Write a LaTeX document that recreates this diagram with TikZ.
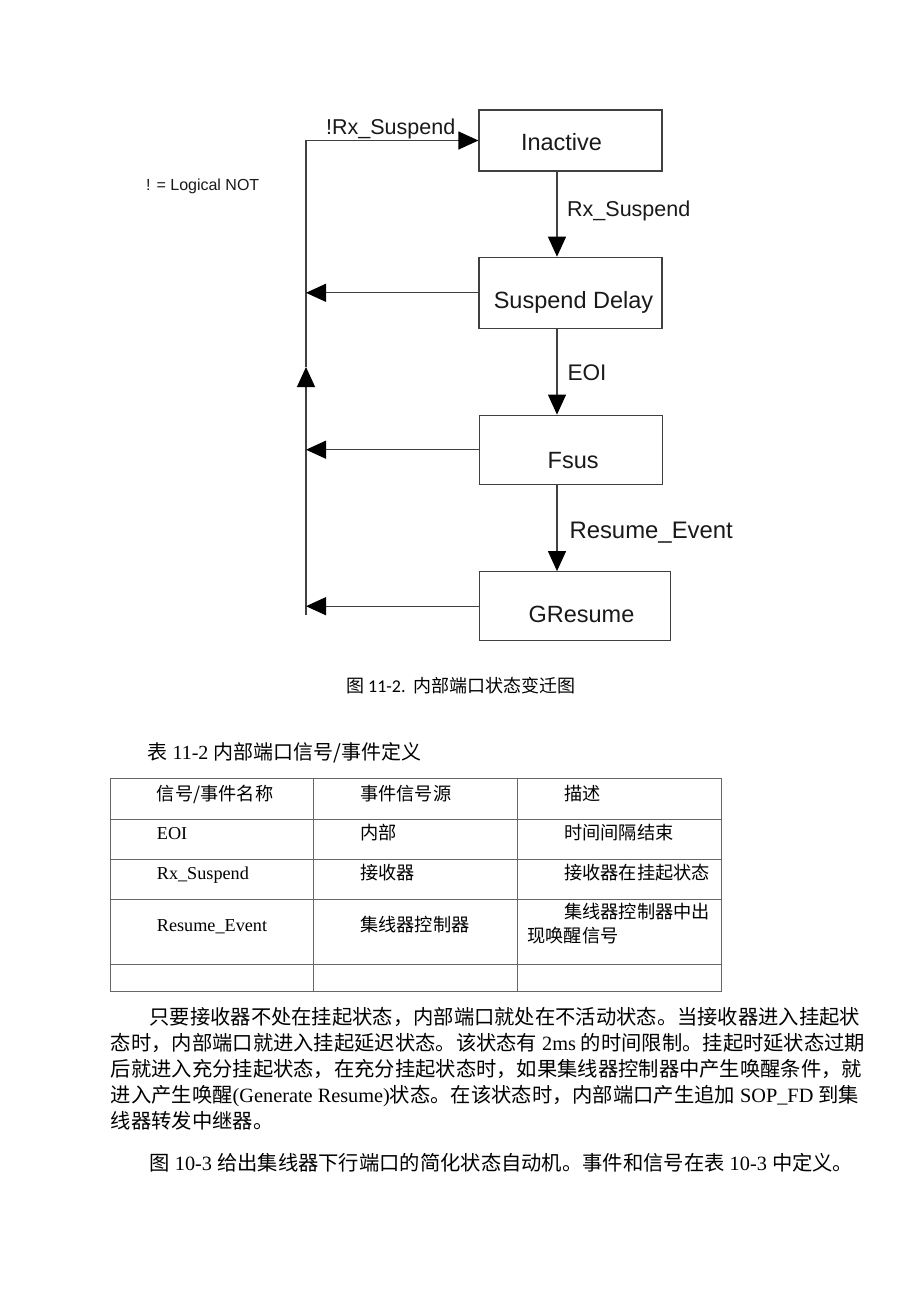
\documentclass[tikz,border=0pt]{standalone}
\usepackage{fontspec}
\setmainfont{Liberation Serif}
\newfontfamily\arial{Liberation Sans}
\newfontfamily\cjk{Noto Sans CJK SC}
\newfontfamily\calib{Carlito}
\usetikzlibrary{arrows.meta}
\XeTeXlinebreaklocale "zh"
\XeTeXlinebreakskip=0pt plus 4pt
\newcommand{\lat}[1]{{\rmfamily #1}}

\begin{document}
\begin{tikzpicture}[x=1pt, y=-1pt,
	wire/.style={draw=black!75, line width=1.2pt},
	flow/.style={wire, -{Triangle[length=20pt, width=18pt, color=black]}},
	state/.style={wire, rectangle, minimum width=183pt, minimum height=69pt, inner sep=0pt, text=black!90, font=\arial\fontsize{23.5}{26}\selectfont, text depth=0pt},
	guard/.style={anchor=base west, inner sep=0pt, text=black!90, font=\arial\fontsize{21.5}{24}\selectfont},
	body/.style={anchor=base west, inner sep=0pt, font=\cjk\fontsize{20.3}{24}\selectfont},
	jbody/.style={body, text width=#1pt, align=justify},
	cell/.style={anchor=base west, inner sep=0pt, font=\cjk\fontsize{18.2}{22}\selectfont},
	tabline/.style={draw=black!60, line width=1pt}]
			\useasboundingbox (0, 0) rectangle (920, 1302);
			\fill[white] (0, 0) rectangle (920, 1302);
			% state machine
			\node[state, minimum height=61pt, text height=20.4pt] (IN)at(570.5, 140.5) {Inactive\hspace*{18pt}};
			\node[state, minimum height=71pt, text height=32.2pt] (SD)at(570.5, 292.8) {\hspace*{6pt}Suspend Delay};
			\node[state, text height=38pt] (FS)at(570.7, 449.7) {\hspace*{5pt}Fsus};
			\node[state, minimum width=191.4pt, text height=33pt] (GR)at(575, 606.2) {\hspace*{13pt}GResume};
			\coordinate (spine) at (557, 0);
			\coordinate (trunk) at (306, 615);
			\coordinate (up) at (306, 367);
			\draw[flow] (IN.south -| spine) -- (SD.north -| spine);
			\draw[flow] (SD.south -| spine) -- (FS.north -| spine);
			\draw[flow] (FS.south -| spine) -- (GR.north -| spine);
			\draw[flow] (trunk) -- (up);
			\draw[flow] (up) -- (IN.west -| trunk) -- (IN.west);
			\draw[flow] (SD.west) -- (SD.west -| trunk);
			\draw[flow] (FS.west) -- (FS.west -| trunk);
			\draw[flow] (GR.west) -- (GR.west -| trunk);
			\node[guard] (notrx)at(326, 134) {!Rx\_Suspend};
			\node[guard] (rx)at(567, 216.7) {Rx\_Suspend};
			\node[guard, font=\arial\fontsize{22.6}{25}\selectfont] (eoi)at(567.3, 380.7) {EOI};
			\node[guard, font=\arial\fontsize{23.9}{26}\selectfont] (resev)at(569.3, 538) {Resume\_Event};
			\node[guard, font=\arial\fontsize{16}{18}\selectfont] (legend)at(146, 190) {! = Logical NOT};
			% caption and table
			\node[body, font=\cjk\fontsize{18}{22}\selectfont] (cap)at(346, 692.7) {图 {\calib 11-2.}\hspace{8pt}内部端口状态变迁图};
			\node[body, font=\cjk\fontsize{20}{24}\selectfont] (tabtitle)at(147.3, 759) {表\lat{ 11-2 }内部端口信号/事件定义};
			\draw[tabline] (110, 778.5) rectangle (721.7, 991);
			\draw[tabline] (313.7, 778.5) -- (313.7, 991);
			\draw[tabline] (517.7, 778.5) -- (517.7, 991);
			\draw[tabline] (110, 819.3) -- (721.7, 819.3);
			\draw[tabline] (110, 859.3) -- (721.7, 859.3);
			\draw[tabline] (110, 899.3) -- (721.7, 899.3);
			\draw[tabline] (110, 964) -- (721.7, 964);
			\node[cell] (h1)at(156.7, 800) {信号/事件名称};
			\node[cell] (h2)at(360, 800) {事件信号源};
			\node[cell] (h3)at(564, 800) {描述};
			\node[cell] (eoiname)at(156.7, 839.4) {\lat{EOI}};
			\node[cell] (eoisrc)at(360, 839.4) {内部};
			\node[cell] (eoidesc)at(564, 839.4) {时间间隔结束};
			\node[cell] (rxname)at(156.7, 879.4) {\lat{Rx\_Suspend}};
			\node[cell] (rxsrc)at(360, 879.4) {接收器};
			\node[cell] (rxdesc)at(564, 879.4) {接收器在挂起状态};
			\node[cell] (resname)at(156.7, 931.7) {\lat{Resume\_Event}};
			\node[cell] (ressrc)at(360, 931.7) {集线器控制器};
			\node[cell] (resdesca)at(564, 918.4) {集线器控制器中出};
			\node[cell] (resdescb)at(527.3, 942.7) {现唤醒信号};
			% body text
			\node[jbody=715.7] (para1)at(149.3, 1024.5) {\parfillskip=0pt 只要接收器不处在挂起状态，内部端口就处在不活动状态。当接收器进入挂起状};
			\node[jbody=754.3] (para2)at(110.7, 1050.5) {\parfillskip=0pt 态时，内部端口就进入挂起延迟状态。该状态有\lat{ 2ms }的时间限制。挂起时延状态过期};
			\node[jbody=754.3] (para3)at(110.7, 1076.5) {\parfillskip=0pt 后就进入充分挂起状态，在充分挂起状态时，如果集线器控制器中产生唤醒条件，就};
			\node[jbody=754.3] (para4)at(110.7, 1102.5) {\parfillskip=0pt 进入产生唤醒\lat{(Generate Resume)}状态。在该状态时，内部端口产生追加\lat{ SOP\_FD }到集};
			\node[body] (para5)at(110.7, 1128.5) {线器转发中继器。};
			\node[body] (para6)at(149.3, 1170.5) {图\lat{ 10-3 }给出集线器下行端口的简化状态自动机。事件和信号在表\lat{ 10-3 }中定义。};
		\end{tikzpicture}
\end{document}
